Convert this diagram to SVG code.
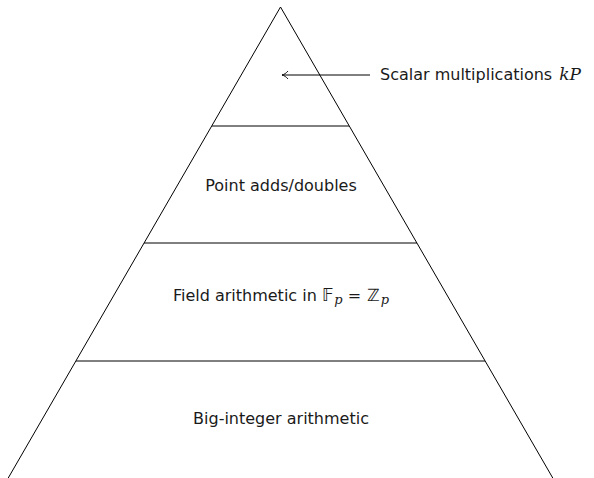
<svg xmlns="http://www.w3.org/2000/svg" width="594" height="478" viewBox="0 0 594 478">
<style>
.ln{stroke:#000;stroke-width:1;fill:none}
.t{font-family:"DejaVu Sans","Liberation Sans",sans-serif;font-size:16px;fill:#1a1a1a}
.m{font-family:"DejaVu Serif","Liberation Serif",serif;font-style:italic}
.ds{font-family:"DejaVu Sans","Noto Sans",sans-serif;font-style:normal;font-size:17px}
</style>
<defs>
<marker id="arr" markerWidth="12" markerHeight="12" refX="9" refY="6" orient="auto" markerUnits="userSpaceOnUse">
<path d="M3,2 C4.5,4 7,5.5 9,6 C7,6.5 4.5,8 3,10" fill="none" stroke="#000" stroke-width="0.9"/>
</marker>
</defs>
<g id="pyramid">
<path class="ln" d="M6.5,481 L280.5,7 L554.5,481"/>
</g>
<g id="layer-scalar">
<text class="t" x="380" y="80">Scalar multiplications <tspan class="m" font-size="17" dx="2">kP</tspan></text>
</g>
<g id="layer-point">
<line class="ln" x1="212" y1="126" x2="349" y2="126"/>
<text class="t" x="281" y="191" text-anchor="middle">Point adds/doubles</text>
</g>
<g id="layer-field">
<line class="ln" x1="144" y1="243" x2="417" y2="243"/>
<text class="t" x="281" y="301" text-anchor="middle">Field arithmetic in <tspan class="ds">𝔽</tspan><tspan class="m" font-size="13" dy="3" dx="1">p</tspan><tspan dy="-3" dx="5">=</tspan><tspan class="ds" dx="6">ℤ</tspan><tspan class="m" font-size="13" dy="3" dx="1">p</tspan></text>
</g>
<g id="layer-bigint">
<line class="ln" x1="76" y1="361" x2="485" y2="361"/>
<text class="t" x="281" y="424" text-anchor="middle">Big-integer arithmetic</text>
</g>
<g id="connectors">
<line class="ln" x1="370" y1="75" x2="282" y2="75" marker-end="url(#arr)"/>
</g>
</svg>
